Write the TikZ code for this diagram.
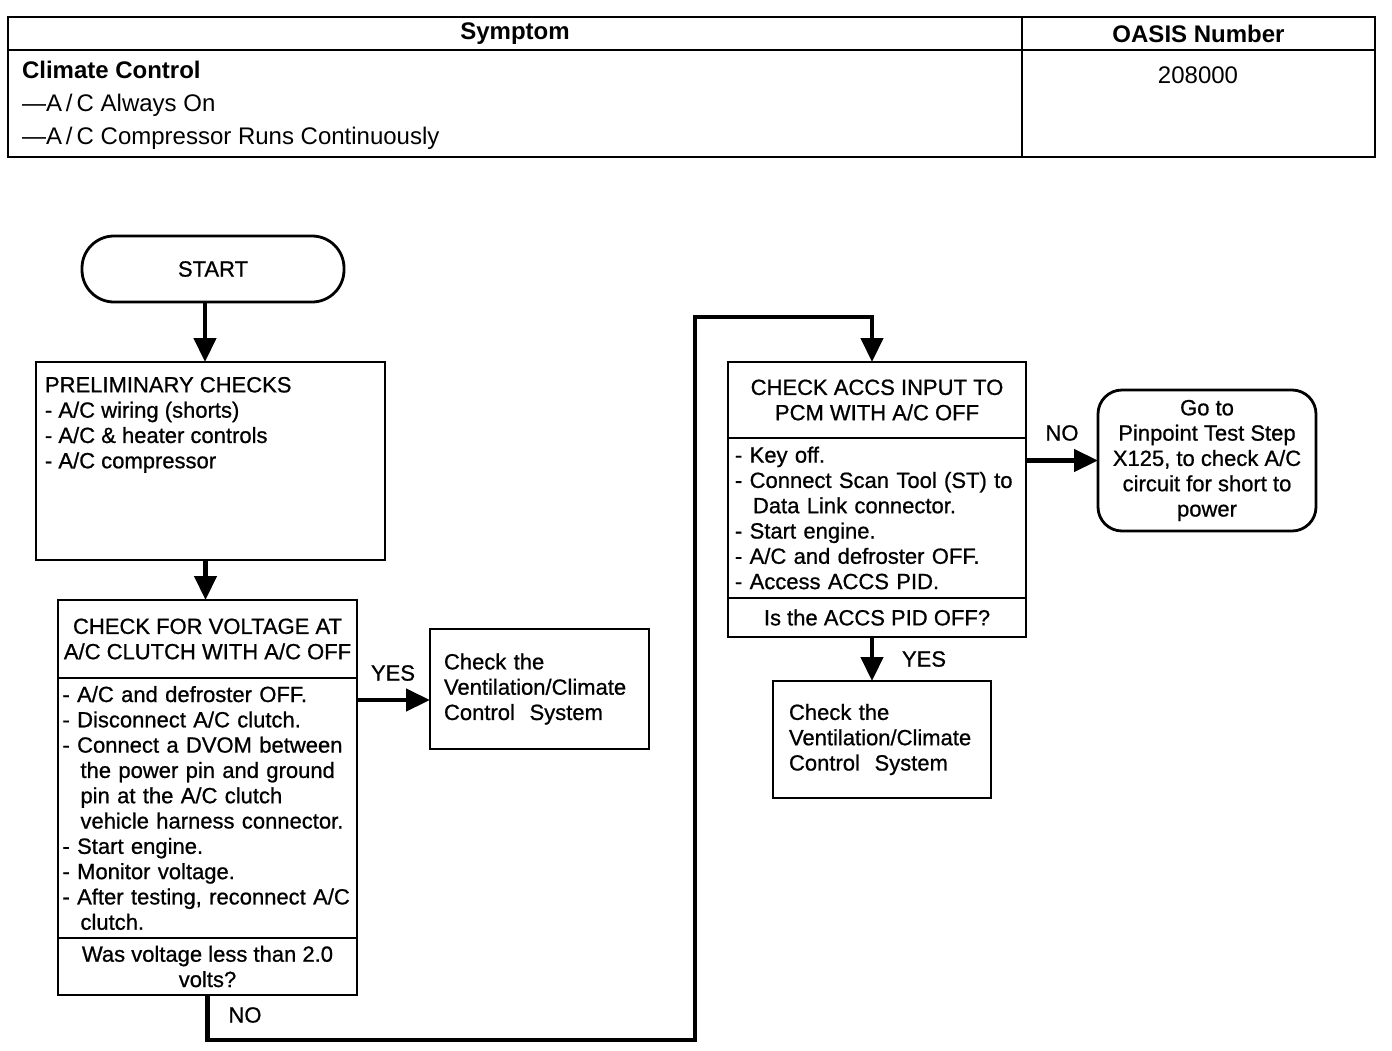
\documentclass[tikz,border=0pt]{standalone}
\usepackage{fontspec}
\setmainfont{Liberation Sans}
\newfontfamily\flowfont[FakeBold=0.8]{Liberation Sans}
\usetikzlibrary{arrows.meta,positioning}
\newcommand{\ind}{\hspace*{9pt}}

\begin{document}
\begin{tikzpicture}[x=0.5pt,y=-0.5pt,>={Triangle[length=12pt,width=11pt]}]
		% \draw[help lines] (0,0) grid (1392,1050);
		\path[use as bounding box] (0,0) rectangle (1392,1050);
		\tikzstyle{every node}=[inner sep=0pt,outer sep=0pt,font=\fontsize{11}{12.65}\flowfont]
		\tikzstyle{cell}=[draw,line width=1pt,font=\fontsize{12}{16.5}\selectfont]
		\tikzstyle{box}=[draw,line width=1.4pt]
		\tikzstyle{flow}=[line width=2.2pt,->]
		
		%% Symptom table
		\draw (515,33.5) node [cell,font=\fontsize{12}{16.5}\selectfont\bfseries,minimum width=507pt,minimum height=16.5pt] (hs) {Symptom};
		\draw (1198.5,33.5) node [cell,font=\fontsize{12}{16.5}\selectfont\bfseries,minimum width=176.5pt,minimum height=16.5pt] (ho) {OASIS Number};
		\draw (515,103.5) node [cell,minimum width=507pt,minimum height=53.5pt] (bs) {};
		\draw (1198.5,103.5) node [cell,minimum width=176.5pt,minimum height=53.5pt] (bo) {};
		\draw (22,61) node [anchor=north west,align=left,font=\fontsize{12}{16.5}\selectfont] (sym) {\textbf{Climate Control}\\---A\,/\,C Always On\\---A\,/\,C Compressor Runs Continuously};
		\draw (1198,75) node [font=\fontsize{12}{16.5}\selectfont] (num) {208000};
		
		%% Start and preliminary checks
		\draw (213,269) node [box,rounded corners=16pt,minimum width=131pt,minimum height=33pt] (start) {START};
		\draw (210.5,461) node [box,minimum width=174.5pt,minimum height=99pt] (pre) {};
		\draw (45,377) node [anchor=north west,align=left] (pret) {PRELIMINARY CHECKS\\- A/C wiring (shorts)\\- A/C \& heater controls\\- A/C compressor};
		
		%% Voltage at clutch
		\draw (207.5,639) node [box,align=center,minimum width=149.5pt,minimum height=39pt] (vt) {CHECK FOR VOLTAGE AT\\A/C CLUTCH WITH A/C OFF};
		\node [box,below=0pt of vt,text width=145pt,inner xsep=2.25pt,align=left,minimum height=130pt] (vb) {- A/C and defroster OFF.\\- Disconnect A/C clutch.\\- Connect a DVOM between\\\ind the power pin and ground\\\ind pin at the A/C clutch\\\ind vehicle harness connector.\\- Start engine.\\- Monitor voltage.\\- After testing, reconnect A/C\\\ind clutch.};
		\node [box,below=0pt of vb,align=center,minimum width=149.5pt,minimum height=28.5pt] (vq) {Was voltage less than 2.0\\volts?};
		\draw (539.5,689) node [box,text width=95.5pt,inner xsep=7pt,align=left,minimum height=60pt] (vy) {Check the\\Ventilation/Climate\\Control~ System};
		
		%% ACCS input
		\draw (877,400) node [box,align=center,minimum width=149pt,minimum height=38pt] (at) {CHECK ACCS INPUT TO\\PCM WITH A/C OFF};
		\node [box,below=0pt of at,text width=142pt,inner xsep=3.5pt,align=left,minimum height=80pt] (ab) {- Key off.\\- Connect Scan Tool (ST) to\\\ind Data Link connector.\\- Start engine.\\- A/C and defroster OFF.\\- Access ACCS PID.};
		\node [box,below=0pt of ab,align=center,minimum width=149pt,minimum height=19.5pt] (aq) {Is the ACCS PID OFF?};
		\draw (882,739.5) node [box,text width=93pt,inner xsep=8pt,align=left,minimum height=58.5pt] (ay) {Check the\\Ventilation/Climate\\Control~ System};
		\draw (1207,460.5) node [box,rounded corners=12pt,align=center,minimum width=109pt,minimum height=70.5pt] (go) {Go to\\Pinpoint Test Step\\X125, to check A/C\\circuit for short to\\power};
		
		%% Connectors
		\coordinate (n1) at (695,1040);
		\coordinate (n2) at (695,317);
		\draw [flow] ([xshift=-4pt]start.south) -- ([xshift=-4pt]start.south |- pre.north);
		\draw [flow] ([xshift=-2.5pt]pre.south) -- ([xshift=-2.5pt]pre.south |- vt.north);
		\draw [flow] ([yshift=-11pt]vb.north east) -- ([yshift=-11pt]vb.north east -| vy.west);
		\draw [flow] (vq.south) |- (n1) -- (n2) -| ([xshift=-2.5pt]at.north);
		\draw [flow] (go.west -| ab.east) -- (go.west);
		\draw [flow] ([xshift=-2.5pt]aq.south) -- ([xshift=-2.5pt]aq.south |- ay.north);
		\draw (393,673) node (yes1) {YES};
		\draw (245,1015) node (no1) {NO};
		\draw (1062,433) node (no2) {NO};
		\draw (924,659) node (yes2) {YES};
		
	\end{tikzpicture}
\end{document}
